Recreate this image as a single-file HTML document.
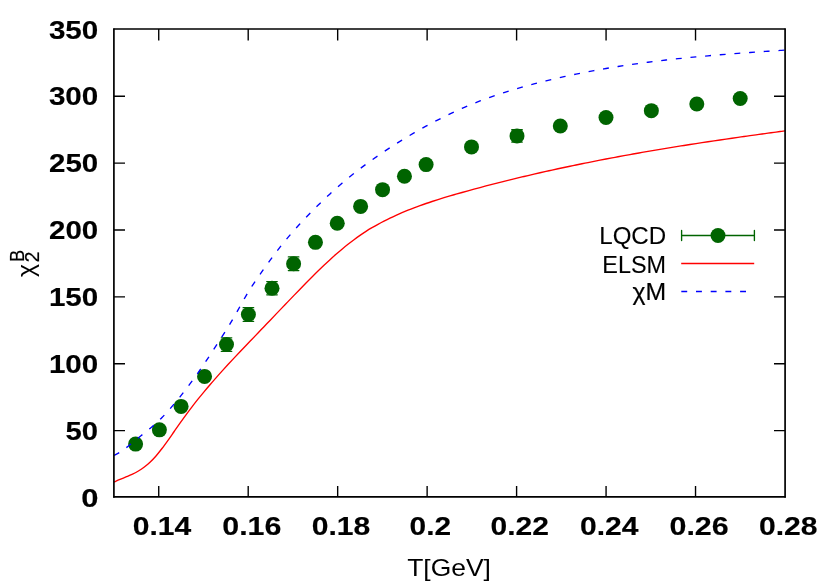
<!DOCTYPE html>
<html lang="en"><head><meta charset="utf-8"><title>chi2B vs T</title>
<style>
html,body{margin:0;padding:0;background:#ffffff;}
body{width:830px;height:586px;overflow:hidden;font-family:"Liberation Sans",sans-serif;}
svg{display:block;will-change:transform;}
text{font-family:"Liberation Sans",sans-serif;fill:#000000;}
.tk{font-weight:bold;font-size:24px;}
.lb{font-weight:normal;font-size:24px;}
</style></head><body>
<svg width="830" height="586" viewBox="0 0 830 586">
<rect x="0" y="0" width="830" height="586" fill="#ffffff"/>
<g stroke="#000000" stroke-width="1.38" stroke-linecap="butt" fill="none">
<path d="M114.00,430.59 h11.00 M785.00,430.59 h-11.00"/>
<path d="M114.00,363.74 h11.00 M785.00,363.74 h-11.00"/>
<path d="M114.00,296.88 h11.00 M785.00,296.88 h-11.00"/>
<path d="M114.00,230.02 h11.00 M785.00,230.02 h-11.00"/>
<path d="M114.00,163.16 h11.00 M785.00,163.16 h-11.00"/>
<path d="M114.00,96.31 h11.00 M785.00,96.31 h-11.00"/>
<path d="M158.73,497.00 v-11.00 M158.73,29.00 v11.50"/>
<path d="M248.20,497.00 v-11.00 M248.20,29.00 v11.50"/>
<path d="M337.67,497.00 v-11.00 M337.67,29.00 v11.50"/>
<path d="M427.13,497.00 v-11.00 M427.13,29.00 v11.50"/>
<path d="M516.60,497.00 v-11.00 M516.60,29.00 v11.50"/>
<path d="M606.07,497.00 v-11.00 M606.07,29.00 v11.50"/>
<path d="M695.53,497.00 v-11.00 M695.53,29.00 v11.50"/>
</g>
<g stroke="#006400" stroke-width="1.35" stroke-linecap="round" fill="none">
<path d="M226.50,337.80 V351.30 M221.25,337.80 h10.5 M221.25,351.30 h10.5"/>
<path d="M248.40,307.65 V321.35 M243.15,307.65 h10.5 M243.15,321.35 h10.5"/>
<path d="M272.00,281.60 V294.80 M266.75,281.60 h10.5 M266.75,294.80 h10.5"/>
<path d="M293.60,256.90 V270.60 M288.35,256.90 h10.5 M288.35,270.60 h10.5"/>
<path d="M517.00,129.70 V142.10 M511.75,129.70 h10.5 M511.75,142.10 h10.5"/>
</g>
<g fill="#006400" stroke="none">
<circle cx="135.60" cy="444.10" r="7.50"/>
<circle cx="159.40" cy="429.85" r="7.50"/>
<circle cx="181.10" cy="406.40" r="7.50"/>
<circle cx="204.55" cy="376.40" r="7.50"/>
<circle cx="226.50" cy="344.55" r="7.50"/>
<circle cx="248.40" cy="314.50" r="7.50"/>
<circle cx="272.00" cy="288.20" r="7.50"/>
<circle cx="293.60" cy="263.75" r="7.50"/>
<circle cx="315.45" cy="242.35" r="7.50"/>
<circle cx="337.25" cy="223.25" r="7.50"/>
<circle cx="360.60" cy="206.40" r="7.50"/>
<circle cx="382.55" cy="189.65" r="7.50"/>
<circle cx="404.45" cy="176.20" r="7.50"/>
<circle cx="426.10" cy="164.60" r="7.50"/>
<circle cx="471.50" cy="146.90" r="7.50"/>
<circle cx="517.00" cy="135.90" r="7.50"/>
<circle cx="560.30" cy="126.00" r="7.50"/>
<circle cx="606.00" cy="117.50" r="7.50"/>
<circle cx="651.35" cy="110.65" r="7.50"/>
<circle cx="696.80" cy="104.05" r="7.50"/>
<circle cx="740.20" cy="98.45" r="7.50"/>
</g>
<path d="M114.00,482.12 C115.00,481.67 118.00,480.28 120.00,479.42 C122.00,478.56 124.00,477.80 126.00,476.96 C128.00,476.11 130.00,475.31 132.00,474.36 C134.00,473.42 136.00,472.45 138.00,471.27 C140.00,470.09 142.00,468.82 144.00,467.31 C146.00,465.80 148.00,464.12 150.00,462.23 C152.00,460.33 154.00,458.22 156.00,455.94 C158.00,453.65 160.00,451.12 162.00,448.52 C164.00,445.92 166.00,443.13 168.00,440.34 C170.00,437.54 172.00,434.62 174.00,431.75 C176.00,428.88 178.00,425.95 180.00,423.13 C182.00,420.31 184.00,417.52 186.00,414.80 C188.00,412.09 190.00,409.44 192.00,406.83 C194.00,404.23 196.00,401.69 198.00,399.18 C200.00,396.68 202.00,394.23 204.00,391.82 C206.00,389.41 208.00,387.05 210.00,384.71 C212.00,382.38 214.00,380.09 216.00,377.83 C218.00,375.56 220.00,373.33 222.00,371.13 C224.00,368.92 226.00,366.74 228.00,364.58 C230.00,362.41 232.00,360.28 234.00,358.15 C236.00,356.02 238.00,353.91 240.00,351.81 C242.00,349.70 244.00,347.61 246.00,345.52 C248.00,343.42 250.00,341.34 252.00,339.25 C254.00,337.16 256.00,335.06 258.00,332.97 C260.00,330.88 262.00,328.78 264.00,326.69 C266.00,324.60 268.00,322.50 270.00,320.41 C272.00,318.32 274.00,316.23 276.00,314.14 C278.00,312.05 280.00,309.96 282.00,307.87 C284.00,305.79 286.00,303.71 288.00,301.63 C290.00,299.55 292.00,297.47 294.00,295.40 C296.00,293.33 298.00,291.26 300.00,289.20 C302.00,287.14 304.00,285.09 306.00,283.06 C308.00,281.03 310.00,279.00 312.00,277.01 C314.00,275.01 316.00,273.02 318.00,271.07 C320.00,269.12 322.00,267.18 324.00,265.29 C326.00,263.39 328.00,261.52 330.00,259.69 C332.00,257.86 334.00,256.06 336.00,254.30 C338.00,252.55 340.00,250.83 342.00,249.16 C344.00,247.49 346.00,245.86 348.00,244.28 C350.00,242.70 352.00,241.16 354.00,239.68 C356.00,238.20 358.00,236.76 360.00,235.38 C362.00,233.99 364.00,232.66 366.00,231.38 C368.00,230.10 370.00,228.88 372.00,227.70 C374.00,226.52 376.00,225.39 378.00,224.29 C380.00,223.19 382.00,222.14 384.00,221.12 C386.00,220.09 388.00,219.11 390.00,218.14 C392.00,217.18 394.00,216.25 396.00,215.34 C398.00,214.44 400.00,213.56 402.00,212.70 C404.00,211.85 406.00,211.02 408.00,210.21 C410.00,209.40 412.00,208.62 414.00,207.86 C416.00,207.09 418.00,206.35 420.00,205.62 C422.00,204.90 424.00,204.19 426.00,203.51 C428.00,202.82 430.00,202.14 432.00,201.49 C434.00,200.83 436.00,200.19 438.00,199.56 C440.00,198.93 442.00,198.31 444.00,197.70 C446.00,197.09 448.00,196.50 450.00,195.91 C452.00,195.32 454.00,194.75 456.00,194.17 C458.00,193.60 460.00,193.04 462.00,192.48 C464.00,191.92 466.00,191.36 468.00,190.81 C470.00,190.26 472.00,189.71 474.00,189.17 C476.00,188.62 478.00,188.09 480.00,187.55 C482.00,187.02 484.00,186.49 486.00,185.96 C488.00,185.44 490.00,184.92 492.00,184.40 C494.00,183.88 496.00,183.37 498.00,182.86 C500.00,182.35 502.00,181.85 504.00,181.35 C506.00,180.85 508.00,180.35 510.00,179.86 C512.00,179.37 514.00,178.88 516.00,178.40 C518.00,177.91 520.00,177.43 522.00,176.95 C524.00,176.48 526.00,176.00 528.00,175.54 C530.00,175.07 532.00,174.60 534.00,174.14 C536.00,173.68 538.00,173.22 540.00,172.77 C542.00,172.31 544.00,171.86 546.00,171.41 C548.00,170.97 550.00,170.52 552.00,170.08 C554.00,169.64 556.00,169.21 558.00,168.78 C560.00,168.34 562.00,167.91 564.00,167.49 C566.00,167.06 568.00,166.64 570.00,166.22 C572.00,165.80 574.00,165.39 576.00,164.97 C578.00,164.56 580.00,164.15 582.00,163.74 C584.00,163.34 586.00,162.94 588.00,162.54 C590.00,162.14 592.00,161.74 594.00,161.34 C596.00,160.95 598.00,160.56 600.00,160.17 C602.00,159.78 604.00,159.40 606.00,159.02 C608.00,158.64 610.00,158.26 612.00,157.88 C614.00,157.51 616.00,157.13 618.00,156.76 C620.00,156.39 622.00,156.02 624.00,155.66 C626.00,155.29 628.00,154.93 630.00,154.57 C632.00,154.21 634.00,153.86 636.00,153.50 C638.00,153.15 640.00,152.80 642.00,152.45 C644.00,152.10 646.00,151.75 648.00,151.41 C650.00,151.06 652.00,150.72 654.00,150.38 C656.00,150.04 658.00,149.71 660.00,149.37 C662.00,149.04 664.00,148.70 666.00,148.37 C668.00,148.04 670.00,147.72 672.00,147.39 C674.00,147.06 676.00,146.74 678.00,146.42 C680.00,146.10 682.00,145.78 684.00,145.46 C686.00,145.14 688.00,144.83 690.00,144.52 C692.00,144.20 694.00,143.89 696.00,143.58 C698.00,143.27 700.00,142.97 702.00,142.66 C704.00,142.35 706.00,142.05 708.00,141.75 C710.00,141.45 712.00,141.15 714.00,140.85 C716.00,140.55 718.00,140.25 720.00,139.96 C722.00,139.66 724.00,139.37 726.00,139.08 C728.00,138.79 730.00,138.50 732.00,138.21 C734.00,137.92 736.00,137.63 738.00,137.35 C740.00,137.06 742.00,136.78 744.00,136.49 C746.00,136.21 748.00,135.93 750.00,135.65 C752.00,135.37 754.00,135.09 756.00,134.81 C758.00,134.53 760.00,134.26 762.00,133.98 C764.00,133.71 766.00,133.43 768.00,133.16 C770.00,132.89 772.00,132.61 774.00,132.34 C776.00,132.07 778.17,131.78 780.00,131.53 C781.83,131.29 784.17,130.98 785.00,130.86" fill="none" stroke="#ff0000" stroke-width="1.35" stroke-linejoin="round"/>
<path d="M114.00,455.45 C115.00,454.90 118.00,453.40 120.00,452.14 C122.00,450.88 124.00,449.39 126.00,447.88 C128.00,446.37 130.00,444.70 132.00,443.08 C134.00,441.46 136.00,439.77 138.00,438.15 C140.00,436.52 142.00,434.95 144.00,433.33 C146.00,431.72 148.00,430.13 150.00,428.46 C152.00,426.78 154.00,425.09 156.00,423.27 C158.00,421.44 160.00,419.54 162.00,417.51 C164.00,415.49 166.00,413.32 168.00,411.09 C170.00,408.86 172.00,406.52 174.00,404.14 C176.00,401.76 178.00,399.29 180.00,396.80 C182.00,394.31 184.00,391.78 186.00,389.18 C188.00,386.59 190.00,383.94 192.00,381.22 C194.00,378.50 196.00,375.69 198.00,372.84 C200.00,369.99 202.00,367.06 204.00,364.10 C206.00,361.14 208.00,358.13 210.00,355.10 C212.00,352.06 214.00,348.99 216.00,345.91 C218.00,342.83 220.00,339.75 222.00,336.63 C224.00,333.51 226.00,330.44 228.00,327.19 C230.00,323.94 232.00,320.57 234.00,317.12 C236.00,313.67 238.00,310.01 240.00,306.47 C242.00,302.93 244.00,299.26 246.00,295.87 C248.00,292.49 250.00,289.24 252.00,286.13 C254.00,283.02 256.00,280.12 258.00,277.22 C260.00,274.32 262.00,271.54 264.00,268.74 C266.00,265.94 268.00,263.15 270.00,260.42 C272.00,257.69 274.00,254.98 276.00,252.35 C278.00,249.73 280.00,247.17 282.00,244.67 C284.00,242.18 286.00,239.75 288.00,237.38 C290.00,235.01 292.00,232.71 294.00,230.45 C296.00,228.18 298.00,225.98 300.00,223.81 C302.00,221.64 304.00,219.53 306.00,217.44 C308.00,215.35 310.00,213.30 312.00,211.27 C314.00,209.25 316.00,207.26 318.00,205.29 C320.00,203.33 322.00,201.40 324.00,199.50 C326.00,197.60 328.00,195.73 330.00,193.89 C332.00,192.05 334.00,190.25 336.00,188.47 C338.00,186.70 340.00,184.96 342.00,183.25 C344.00,181.54 346.00,179.86 348.00,178.21 C350.00,176.57 352.00,174.96 354.00,173.38 C356.00,171.80 358.00,170.25 360.00,168.72 C362.00,167.20 364.00,165.71 366.00,164.24 C368.00,162.77 370.00,161.33 372.00,159.91 C374.00,158.50 376.00,157.10 378.00,155.73 C380.00,154.36 382.00,153.01 384.00,151.67 C386.00,150.34 388.00,149.02 390.00,147.73 C392.00,146.43 394.00,145.15 396.00,143.88 C398.00,142.62 400.00,141.37 402.00,140.14 C404.00,138.91 406.00,137.69 408.00,136.50 C410.00,135.30 412.00,134.12 414.00,132.95 C416.00,131.79 418.00,130.65 420.00,129.52 C422.00,128.39 424.00,127.28 426.00,126.18 C428.00,125.09 430.00,124.01 432.00,122.95 C434.00,121.90 436.00,120.85 438.00,119.83 C440.00,118.81 442.00,117.80 444.00,116.81 C446.00,115.83 448.00,114.86 450.00,113.90 C452.00,112.95 454.00,112.02 456.00,111.10 C458.00,110.18 460.00,109.29 462.00,108.41 C464.00,107.53 466.00,106.67 468.00,105.82 C470.00,104.98 472.00,104.16 474.00,103.35 C476.00,102.54 478.00,101.76 480.00,100.99 C482.00,100.22 484.00,99.47 486.00,98.74 C488.00,98.00 490.00,97.29 492.00,96.59 C494.00,95.89 496.00,95.21 498.00,94.55 C500.00,93.88 502.00,93.23 504.00,92.59 C506.00,91.95 508.00,91.33 510.00,90.72 C512.00,90.11 514.00,89.52 516.00,88.93 C518.00,88.34 520.00,87.77 522.00,87.21 C524.00,86.64 526.00,86.09 528.00,85.55 C530.00,85.00 532.00,84.47 534.00,83.94 C536.00,83.42 538.00,82.90 540.00,82.39 C542.00,81.88 544.00,81.38 546.00,80.89 C548.00,80.40 550.00,79.92 552.00,79.44 C554.00,78.97 556.00,78.50 558.00,78.04 C560.00,77.58 562.00,77.13 564.00,76.69 C566.00,76.24 568.00,75.81 570.00,75.38 C572.00,74.95 574.00,74.53 576.00,74.12 C578.00,73.71 580.00,73.31 582.00,72.91 C584.00,72.51 586.00,72.12 588.00,71.74 C590.00,71.36 592.00,70.98 594.00,70.61 C596.00,70.24 598.00,69.88 600.00,69.53 C602.00,69.17 604.00,68.83 606.00,68.48 C608.00,68.14 610.00,67.81 612.00,67.48 C614.00,67.15 616.00,66.83 618.00,66.51 C620.00,66.20 622.00,65.89 624.00,65.59 C626.00,65.28 628.00,64.99 630.00,64.69 C632.00,64.40 634.00,64.12 636.00,63.84 C638.00,63.55 640.00,63.28 642.00,63.01 C644.00,62.74 646.00,62.48 648.00,62.22 C650.00,61.96 652.00,61.71 654.00,61.46 C656.00,61.21 658.00,60.96 660.00,60.73 C662.00,60.49 664.00,60.25 666.00,60.02 C668.00,59.79 670.00,59.57 672.00,59.35 C674.00,59.13 676.00,58.91 678.00,58.70 C680.00,58.48 682.00,58.28 684.00,58.07 C686.00,57.87 688.00,57.67 690.00,57.47 C692.00,57.27 694.00,57.08 696.00,56.89 C698.00,56.70 700.00,56.52 702.00,56.33 C704.00,56.15 706.00,55.97 708.00,55.80 C710.00,55.62 712.00,55.45 714.00,55.28 C716.00,55.11 718.00,54.94 720.00,54.77 C722.00,54.61 724.00,54.45 726.00,54.29 C728.00,54.13 730.00,53.97 732.00,53.82 C734.00,53.66 736.00,53.51 738.00,53.36 C740.00,53.21 742.00,53.06 744.00,52.92 C746.00,52.77 748.00,52.63 750.00,52.48 C752.00,52.34 754.00,52.20 756.00,52.06 C758.00,51.92 760.00,51.78 762.00,51.65 C764.00,51.51 766.00,51.38 768.00,51.24 C770.00,51.11 772.00,50.97 774.00,50.84 C776.00,50.71 778.17,50.57 780.00,50.45 C781.83,50.33 784.17,50.18 785.00,50.12" fill="none" stroke="#0000ff" stroke-width="1.35" stroke-dasharray="5.9 8.8" stroke-linejoin="round"/>
<g stroke="#006400" stroke-width="1.35" stroke-linecap="round" fill="none">
<path d="M681.6,235.45 H754.4 M681.6,230.4 V240.5 M754.4,230.4 V240.5"/>
</g>
<circle cx="718" cy="235.45" r="7.50" fill="#006400"/>
<path d="M681.2,263.45 H754.2" fill="none" stroke="#ff0000" stroke-width="1.35"/>
<path d="M681.3,291.45 H754.7" fill="none" stroke="#0000ff" stroke-width="1.35" stroke-dasharray="5.9 8.8"/>
<g stroke="#000000" fill="none" stroke-linecap="round">
<path d="M113.90,29.10 V496.90" stroke-width="1.70"/>
<path d="M785.09,29.10 V496.90" stroke-width="1.70"/>
<path d="M113.90,496.92 H785.09" stroke-width="1.70"/>
<path d="M113.90,29.12 H785.09" stroke-width="1.50"/>
</g>
<text class="tk" stroke="#000000" stroke-width="0.14" transform="matrix(1.2889 0 0 1.0590 81.21 506.50)">0</text>
<text class="tk" stroke="#000000" stroke-width="0.14" transform="matrix(1.2200 0 0 1.0590 65.58 439.64)">50</text>
<text class="tk" stroke="#000000" stroke-width="0.14" transform="matrix(1.2333 0 0 1.0590 48.90 372.79)">100</text>
<text class="tk" stroke="#000000" stroke-width="0.14" transform="matrix(1.2333 0 0 1.0590 48.90 305.93)">150</text>
<text class="tk" stroke="#000000" stroke-width="0.14" transform="matrix(1.2288 0 0 1.0590 49.08 239.07)">200</text>
<text class="tk" stroke="#000000" stroke-width="0.14" transform="matrix(1.2288 0 0 1.0590 49.08 172.21)">250</text>
<text class="tk" stroke="#000000" stroke-width="0.14" transform="matrix(1.2338 0 0 1.0590 48.88 105.36)">300</text>
<text class="tk" stroke="#000000" stroke-width="0.14" transform="matrix(1.2338 0 0 1.0590 48.88 38.50)">350</text>
<text class="tk" stroke="#000000" stroke-width="0.14" transform="matrix(1.2527 0 0 1.0590 132.75 534.50)">0.14</text>
<text class="tk" stroke="#000000" stroke-width="0.14" transform="matrix(1.2682 0 0 1.0590 222.23 534.50)">0.16</text>
<text class="tk" stroke="#000000" stroke-width="0.14" transform="matrix(1.2556 0 0 1.0590 311.74 534.50)">0.18</text>
<text class="tk" stroke="#000000" stroke-width="0.14" transform="matrix(1.2460 0 0 1.0590 409.50 534.50)">0.2</text>
<text class="tk" stroke="#000000" stroke-width="0.14" transform="matrix(1.2514 0 0 1.0590 490.50 534.50)">0.22</text>
<text class="tk" stroke="#000000" stroke-width="0.14" transform="matrix(1.2527 0 0 1.0590 580.00 534.50)">0.24</text>
<text class="tk" stroke="#000000" stroke-width="0.14" transform="matrix(1.2682 0 0 1.0590 669.48 534.50)">0.26</text>
<text class="tk" stroke="#000000" stroke-width="0.14" transform="matrix(1.2556 0 0 1.0590 758.99 534.50)">0.28</text>
<text class="lb" transform="matrix(1.1017 0 0 0.9850 407.20 576.20)">T[GeV]</text>
<text class="lb" stroke="#000000" stroke-width="0.10" transform="matrix(1.0039 0 0 0.9850 599.24 244.40)">LQCD</text>
<text class="lb" stroke="#000000" stroke-width="0.10" transform="matrix(0.9756 0 0 0.9850 602.30 272.50)">ELSM</text>
<text class="lb" stroke="#000000" stroke-width="0.18" transform="matrix(1.0328 0 0 0.9850 632.49 300.30)">χM</text>
<g transform="translate(34.0,277.5) rotate(-90)">
<text class="lb" transform="matrix(1.0417 0 0 1.0000 0.49 0.00)">χ</text>
<text class="lb" stroke="#000000" stroke-width="0.25" transform="matrix(0.7647 0 0 0.8485 15.47 -9.75)">B</text>
<text class="lb" stroke="#000000" stroke-width="0.25" transform="matrix(0.7955 0 0 0.8507 15.26 5.00)">2</text>
</g>
</svg></body></html>
